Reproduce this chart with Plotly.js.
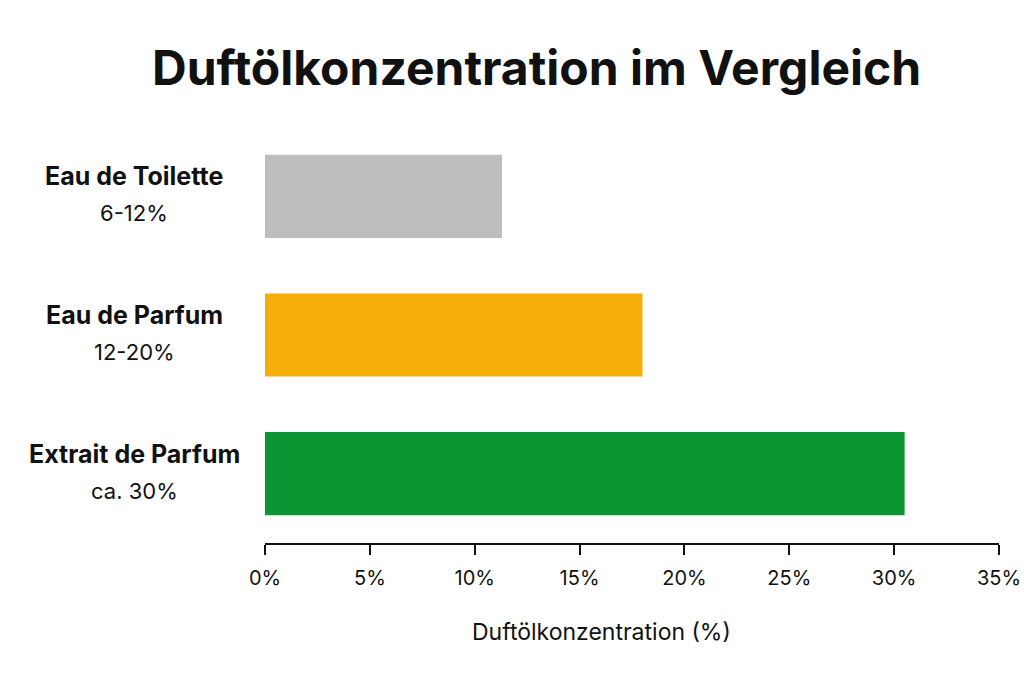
<!DOCTYPE html>
<html>
<head>
<meta charset="utf-8">
<script src="https://cdn.plot.ly/plotly-3.0.1.min.js"></script>
<style>
  html, body { margin: 0; padding: 0; background: #fff; }
  #chart { width: 1024px; height: 688px; }
</style>
</head>
<body>
<div id="chart"></div>
<script>
var categories = ['Eau de Toilette', 'Eau de Parfum', 'Extrait de Parfum'];
var rangeLabels = ['6-12%', '12-20%', 'ca. 30%'];
var values = [11.3, 18, 30.5];
var barColors = ['#bdbdbd', '#f5ae08', '#0a9432'];
var tickVals = [0, 5, 10, 15, 20, 25, 30, 35];
var tickText = ['0%', '5%', '10%', '15%', '20%', '25%', '30%', '35%'];

var fontFamily = 'Inter, "Liberation Sans", sans-serif';

var trace1 = {
  type: 'bar',
  orientation: 'h',
  x: values,
  y: categories,
  marker: {
    color: barColors
  },
  hoverinfo: 'none'
};

// category labels: bold name above, range below, centred left of the plot
var annotations = [];
for (var i = 0; i < categories.length; i++) {
  annotations.push({
    xref: 'paper', yref: 'y',
    x: -0.178, y: categories[i],
    xanchor: 'center', yanchor: 'middle',
    yshift: 20,
    showarrow: false,
    text: '<b>' + categories[i] + '</b>',
    font: { family: fontFamily, size: 25, color: '#111' }
  });
  annotations.push({
    xref: 'paper', yref: 'y',
    x: -0.178, y: categories[i],
    xanchor: 'center', yanchor: 'middle',
    yshift: -17,
    showarrow: false,
    text: rangeLabels[i],
    font: { family: fontFamily, size: 22, color: '#111' }
  });
}

// axis title
annotations.push({
  xref: 'paper', yref: 'paper',
  x: 0.459, y: 0,
  xanchor: 'center', yanchor: 'middle',
  yshift: -89,
  showarrow: false,
  text: 'Duftölkonzentration (%)',
  font: { family: fontFamily, size: 23, color: '#111' }
});

var layout = {
  width: 1024,
  height: 688,
  paper_bgcolor: '#fff',
  plot_bgcolor: '#fff',
  showlegend: false,
  bargap: 0.4,
  title: {
    text: '<b>Duftölkonzentration im Vergleich</b>',
    x: 0.524, xanchor: 'center',
    xref: 'container', yref: 'container',
    y: 0.901, yanchor: 'middle',
    font: { family: fontFamily, size: 48, color: '#111' }
  },
  margin: { l: 265, r: 25, t: 127, b: 145 },
  xaxis: {
    range: [0, 35],
    tickvals: tickVals,
    ticktext: tickText,
    showgrid: false,
    zeroline: false,
    showline: true,
    linecolor: '#111',
    linewidth: 2,
    ticks: 'outside',
    ticklen: 10,
    tickwidth: 2,
    tickcolor: '#111',
    ticklabelstandoff: 6,
    ticklabeloverflow: 'allow',
    tickfont: { family: fontFamily, size: 20, color: '#111' },
    fixedrange: true
  },
  yaxis: {
    autorange: 'reversed',
    showticklabels: false,
    showgrid: false,
    zeroline: false,
    showline: false,
    ticks: '',
    fixedrange: true
  },
  annotations: annotations
};

Plotly.newPlot('chart', [trace1], layout, { displayModeBar: false, staticPlot: true });
</script>
</body>
</html>
